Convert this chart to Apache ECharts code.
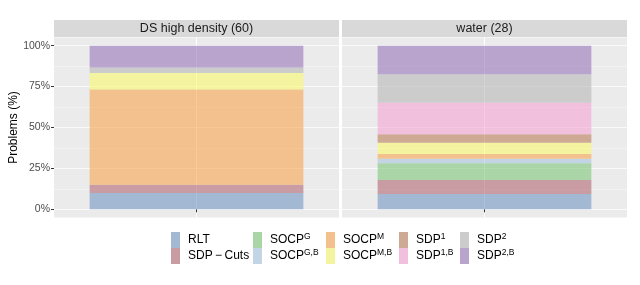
<!DOCTYPE html>
<html><head><meta charset="utf-8">
<script src="https://cdn.jsdelivr.net/npm/echarts@6/dist/echarts.min.js"></script>
<style>html,body{margin:0;padding:0;background:#fff}#c{width:640px;height:285px}</style>
</head><body><div id="c"></div>
<script>
// ---- data ----
const panels = ['DS high density (60)', 'water (28)'];
const seriesNames = ['RLT', 'SDP-Cuts', 'SOCP^G', 'SOCP^{G,B}', 'SOCP^M', 'SOCP^{M,B}', 'SDP^1', 'SDP^{1,B}', 'SDP^2', 'SDP^{2,B}'];
const dsHighDensity = [10.0, 5.0, 0, 0, 58.3, 10.0, 0, 0, 3.3, 13.4];
const water = [9.35, 8.55, 10.2, 2.8, 2.9, 6.9, 5.1, 19.4, 17.3, 17.5];
const yTicks = [0, 25, 50, 75, 100];
const panelValues = [dsHighDensity, water];

// ---- style ----
const apparent = ['#a3b8d3', '#c99ca4', '#a9d5a7', '#c3d4e5', '#f3c18d', '#f4f3a0', '#ceaa95', '#f1c0dc', '#cccccc', '#b8a4cd'];
const alpha = 0.6, bg = 235;
function baseColor(hex) {
  const v = [1, 3, 5].map(i => parseInt(hex.substr(i, 2), 16));
  const b = v.map(c => Math.max(0, Math.min(255, Math.round((c - (1 - alpha) * bg) / alpha))));
  return 'rgb(' + b.join(',') + ')';
}
const FONT = 'Liberation Sans, Arial, sans-serif';

const panelLeft = [54, 342], panelW = 285;
const panelTop = 37.5, panelBot = 217.5;
const dataTop = 45.7, dataBot = 209.3;

const grids = [], xAxes = [], yAxes = [], series = [];
panels.forEach((p, i) => {
  grids.push({ left: panelLeft[i], width: panelW, top: dataTop, height: dataBot - dataTop, show: false });
});
panels.forEach((p, i) => {
  grids.push({ left: panelLeft[i], width: panelW, top: panelTop, height: panelBot - panelTop, show: true, backgroundColor: '#ebebeb', borderWidth: 0 });
});
panels.forEach((p, i) => {
  xAxes.push({
    type: 'category', gridIndex: i, data: [p], offset: panelBot - dataBot,
    axisLine: { show: false }, axisLabel: { show: false },
    axisTick: { show: true, alignWithLabel: true, length: 3, lineStyle: { color: '#333', width: 1 } },
    splitLine: { show: false }
  });
});
panels.forEach((p, i) => {
  xAxes.push({
    type: 'category', gridIndex: 2 + i, data: ['a', 'b', 'c'], boundaryGap: false,
    axisLine: { show: false }, axisLabel: { show: false }, axisTick: { show: false },
    splitLine: { show: true, interval: (idx) => idx === 1, lineStyle: { color: '#ffffff', width: 1 } }
  });
});
panels.forEach((p, i) => {
  yAxes.push({
    type: 'value', gridIndex: i, min: yTicks[0], max: yTicks[yTicks.length - 1], interval: yTicks[1] - yTicks[0],
    axisLine: { show: false },
    axisTick: { show: i === 0, length: 3, lineStyle: { color: '#333', width: 1 } },
    axisLabel: { show: i === 0, formatter: '{value}%', color: '#4d4d4d', fontSize: 10.5, fontFamily: FONT, margin: 4 },
    splitLine: { show: true, lineStyle: { color: '#ffffff', width: 1 } },
    name: i === 0 ? 'Problems (%)' : '', nameLocation: 'middle', nameGap: 33, nameRotate: 90,
    nameTextStyle: { color: '#000', fontSize: 12, fontFamily: FONT }
  });
  yAxes.push({
    type: 'value', gridIndex: i, min: yTicks[0], max: yTicks[yTicks.length - 1], interval: (yTicks[1] - yTicks[0]) / 2,
    position: 'left', axisLine: { show: false }, axisTick: { show: false }, axisLabel: { show: false },
    splitLine: { show: true, lineStyle: { color: '#f6f6f6', width: 0.6 } }
  });
});
panels.forEach((p, i) => {
  yAxes.push({ type: 'value', gridIndex: 2 + i, show: false, splitLine: { show: false } });
});

panels.forEach((p, i) => {
  seriesNames.forEach((n, k) => {
    series.push({
      type: 'bar', name: n, xAxisIndex: i, yAxisIndex: 2 * i, stack: 'panel' + i,
      data: [panelValues[i][k]], barCategoryGap: '25%',
      itemStyle: { color: baseColor(apparent[k]), opacity: alpha },
      emphasis: { disabled: true }, silent: true
    });
  });
});

function fmt(name) {
  const m = name.match(/^(.*?)\^\{?([^}]*)\}?$/);
  if (m) return '{b|' + m[1] + '}{s|' + m[2] + '}';
  if (name === 'SDP-Cuts') return '{b|SDP\u2009\u2212\u2009Cuts}';
  return '{b|' + name + '}';
}
const legendCols = [171, 253, 326, 399, 460];
const legends = legendCols.map((x, c) => ({
  orient: 'vertical', left: x, top: 232, padding: 0, itemWidth: 9, itemHeight: 16, itemGap: 0,
  icon: 'rect', selectedMode: false,
  data: [seriesNames[2 * c], seriesNames[2 * c + 1]].map(n => ({ name: n, itemStyle: { color: apparent[seriesNames.indexOf(n)], opacity: 1 } })),
  formatter: fmt,
  textStyle: {
    padding: [0, 0, 0, 3],
    rich: {
      b: { fontSize: 12, fontFamily: FONT, color: '#000', lineHeight: 16 },
      s: { fontSize: 8.5, fontFamily: FONT, color: '#000', verticalAlign: 'top', lineHeight: 8 }
    }
  }
}));

const graphics = [];
panels.forEach((p, i) => {
  graphics.push({ type: 'rect', shape: { x: panelLeft[i], y: 20, width: panelW, height: 17 }, style: { fill: '#d9d9d9' }, silent: true });
  graphics.push({ type: 'text', x: panelLeft[i] + panelW / 2, y: 29, style: { text: p, fill: '#1a1a1a', fontSize: 12.5, fontFamily: FONT, textAlign: 'center', textVerticalAlign: 'middle' }, silent: true });
});

const chart = echarts.init(document.getElementById('c'), null, { renderer: 'canvas' });
chart.setOption({
  animation: false,
  backgroundColor: '#ffffff',
  grid: grids, xAxis: xAxes, yAxis: yAxes, series: series, legend: legends, graphic: graphics
});
</script></body></html>
